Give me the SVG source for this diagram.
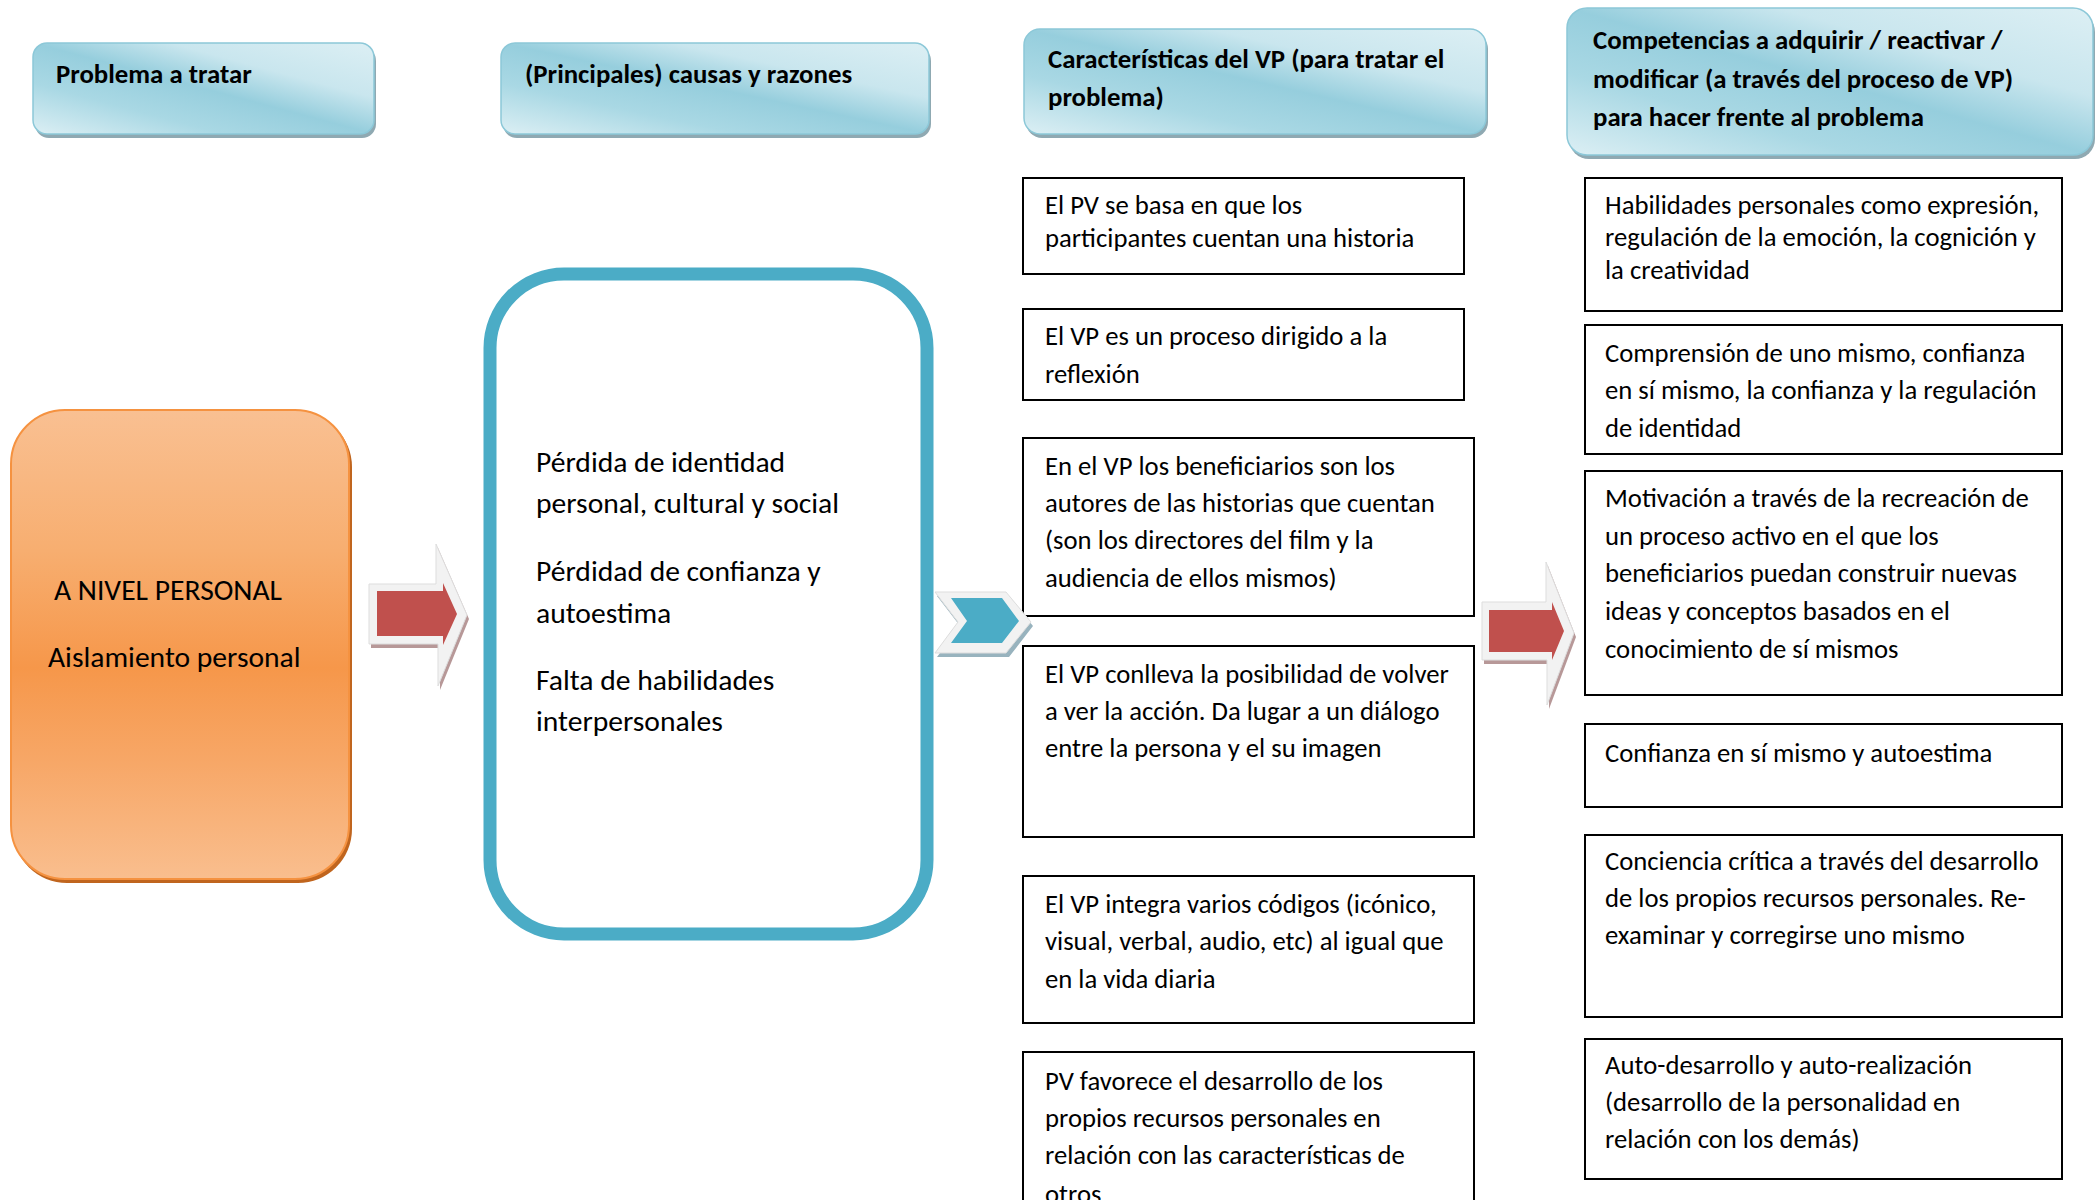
<svg xmlns="http://www.w3.org/2000/svg" width="2096" height="1200" viewBox="0 0 2096 1200">
<defs>
<linearGradient id="hg" x1="1" y1="0" x2="0" y2="1">
<stop offset="0" stop-color="#DCEFF4"/>
<stop offset="0.3" stop-color="#C9E6EE"/>
<stop offset="0.5" stop-color="#96CEDD"/>
<stop offset="0.72" stop-color="#A9D8E4"/>
<stop offset="1" stop-color="#DCEFF4"/>
</linearGradient>
<linearGradient id="og" x1="0" y1="0" x2="0" y2="1">
<stop offset="0" stop-color="#F9C092"/>
<stop offset="0.3" stop-color="#F7AE70"/>
<stop offset="0.55" stop-color="#F6974A"/>
<stop offset="0.75" stop-color="#F7A767"/>
<stop offset="1" stop-color="#F9BE8E"/>
</linearGradient>
<style>
text{font-family:Calibri,Carlito,Lato,"Liberation Sans",sans-serif;fill:#000}
.h{font-weight:bold;font-size:26.8px}
.t{font-size:26.7px}
.b{font-size:29.6px}
.hbox{fill:url(#hg);stroke:#8CC8D8;stroke-width:1.5}
.hsh{fill:#8FA9B2}
.box{fill:#fff;stroke:#000;stroke-width:2}
</style>
</defs>

<g id="header1">
<rect class="hsh" x="35" y="47" width="341" height="91" rx="14"/>
<rect class="hbox" x="33" y="43" width="341" height="91" rx="14"/>
<text class="h" x="56" y="83">Problema a tratar</text>
</g>
<g id="header2">
<rect class="hsh" x="503" y="47" width="428" height="91" rx="14"/>
<rect class="hbox" x="501" y="43" width="428" height="91" rx="14"/>
<text class="h" x="525" y="83">(Principales) causas y razones</text>
</g>
<g id="header3">
<rect class="hsh" x="1026" y="33" width="462" height="105" rx="16"/>
<rect class="hbox" x="1024" y="29" width="462" height="105" rx="16"/>
<text class="h" x="1048" y="68">Características del VP (para tratar el</text>
<text class="h" x="1048" y="106">problema)</text>
</g>
<g id="header4">
<rect class="hsh" x="1569" y="12" width="526" height="147" rx="20"/>
<rect class="hbox" x="1567" y="8" width="526" height="147" rx="20"/>
<text class="h" x="1593" y="49">Competencias a adquirir / reactivar /</text>
<text class="h" x="1593" y="88">modificar (a través del proceso de VP)</text>
<text class="h" x="1593" y="126">para hacer frente al problema</text>
</g>

<g id="problem">
<rect x="13" y="413" width="339" height="470" rx="54" fill="#C0651E"/>
<rect x="11" y="410" width="338" height="469" rx="54" fill="url(#og)" stroke="#F59240" stroke-width="2"/>
<text class="b" x="54" y="600">A NIVEL PERSONAL</text>
<text class="b" x="48" y="667">Aislamiento personal</text>
</g>

<g id="causes">
<rect x="490" y="274" width="437" height="660" rx="74" fill="#fff" stroke="#4BACC6" stroke-width="13"/>
<text class="b" x="536" y="472">Pérdida de identidad</text>
<text class="b" x="536" y="513">personal, cultural y social</text>
<text class="b" x="536" y="581">Pérdidad de confianza y</text>
<text class="b" x="536" y="623">autoestima</text>
<text class="b" x="536" y="690">Falta de habilidades</text>
<text class="b" x="536" y="731">interpersonales</text>
</g>

<g id="char1">
<rect class="box" x="1023" y="178" width="441" height="96"/>
<text class="t" x="1045" y="214">El PV se basa en que los</text>
<text class="t" x="1045" y="247">participantes cuentan una historia</text>
</g>
<g id="char2">
<rect class="box" x="1023" y="309" width="441" height="91"/>
<text class="t" x="1045" y="345">El VP es un proceso dirigido a la</text>
<text class="t" x="1045" y="383">reflexión</text>
</g>
<g id="char3">
<rect class="box" x="1023" y="438" width="451" height="178"/>
<text class="t" x="1045" y="475">En el VP los beneficiarios son los</text>
<text class="t" x="1045" y="512">autores de las historias que cuentan</text>
<text class="t" x="1045" y="549">(son los directores del film y la</text>
<text class="t" x="1045" y="587">audiencia de ellos mismos)</text>
</g>
<g id="char4">
<rect class="box" x="1023" y="646" width="451" height="191"/>
<text class="t" x="1045" y="683">El VP conlleva la posibilidad de volver</text>
<text class="t" x="1045" y="720">a ver la acción. Da lugar a un diálogo</text>
<text class="t" x="1045" y="757">entre la persona y el su imagen</text>
</g>
<g id="char5">
<rect class="box" x="1023" y="876" width="451" height="147"/>
<text class="t" x="1045" y="913">El VP integra varios códigos (icónico,</text>
<text class="t" x="1045" y="950">visual, verbal, audio, etc) al igual que</text>
<text class="t" x="1045" y="988">en la vida diaria</text>
</g>
<g id="char6">
<rect class="box" x="1023" y="1052" width="451" height="170"/>
<text class="t" x="1045" y="1090">PV favorece el desarrollo de los</text>
<text class="t" x="1045" y="1127">propios recursos personales en</text>
<text class="t" x="1045" y="1164">relación con las características de</text>
<text class="t" x="1045" y="1203">otros</text>
</g>

<g id="comp1">
<rect class="box" x="1585" y="178" width="477" height="133"/>
<text class="t" x="1605" y="214">Habilidades personales como expresión,</text>
<text class="t" x="1605" y="246">regulación de la emoción, la cognición y</text>
<text class="t" x="1605" y="279">la creatividad</text>
</g>
<g id="comp2">
<rect class="box" x="1585" y="325" width="477" height="129"/>
<text class="t" x="1605" y="362">Comprensión de uno mismo, confianza</text>
<text class="t" x="1605" y="399">en sí mismo, la confianza y la regulación</text>
<text class="t" x="1605" y="437">de identidad</text>
</g>
<g id="comp3">
<rect class="box" x="1585" y="471" width="477" height="224"/>
<text class="t" x="1605" y="507">Motivación a través de la recreación de</text>
<text class="t" x="1605" y="545">un proceso activo en el que los</text>
<text class="t" x="1605" y="582">beneficiarios puedan construir nuevas</text>
<text class="t" x="1605" y="620">ideas y conceptos basados en el</text>
<text class="t" x="1605" y="658">conocimiento de sí mismos</text>
</g>
<g id="comp4">
<rect class="box" x="1585" y="724" width="477" height="83"/>
<text class="t" x="1605" y="762">Confianza en sí mismo y autoestima</text>
</g>
<g id="comp5">
<rect class="box" x="1585" y="835" width="477" height="182"/>
<text class="t" x="1605" y="870">Conciencia crítica a través del desarrollo</text>
<text class="t" x="1605" y="907">de los propios recursos personales. Re-</text>
<text class="t" x="1605" y="944">examinar y corregirse uno mismo</text>
</g>
<g id="comp6">
<rect class="box" x="1585" y="1039" width="477" height="140"/>
<text class="t" x="1605" y="1074">Auto-desarrollo y auto-realización</text>
<text class="t" x="1605" y="1111">(desarrollo de la personalidad en</text>
<text class="t" x="1605" y="1148">relación con los demás)</text>
</g>

<g id="connectors">
<g id="arrow1">
<polygon points="371,588 438,588 438,548 469,619 440,690 440,648 371,648" fill="#B79898"/>
<polygon points="369,584 436,584 436,544 467,615 438,686 438,644 369,644" fill="#F2F2F2" stroke="#DDDDDD" stroke-width="1"/>
<polygon points="377,591 443,591 443,583 457,614 443,645 443,636 377,636" fill="#C0504D"/>
</g>
<g id="chevron">
<polygon points="937,596 1009,596 1033,626 1009,657 937,657 960,626" fill="#98B3BE"/>
<polygon points="935,592 1006,592 1031,622 1006,653 935,653 958,622" fill="#F2F2F2" stroke="#DDDDDD" stroke-width="1"/>
<polygon points="951,598 1002,598 1019,621 1002,643 951,643 967,621" fill="#4BACC6"/>
</g>
<g id="arrow2">
<polygon points="1484,606 1548,606 1548,566 1576,637 1549,709 1549,664 1484,664" fill="#B79898"/>
<polygon points="1482,602 1546,602 1546,562 1574,633 1547,705 1547,660 1482,660" fill="#F2F2F2" stroke="#DDDDDD" stroke-width="1"/>
<polygon points="1489,610 1552,610 1552,602 1564,631 1552,660 1552,652 1489,652" fill="#C0504D"/>
</g>
</g>
</svg>
